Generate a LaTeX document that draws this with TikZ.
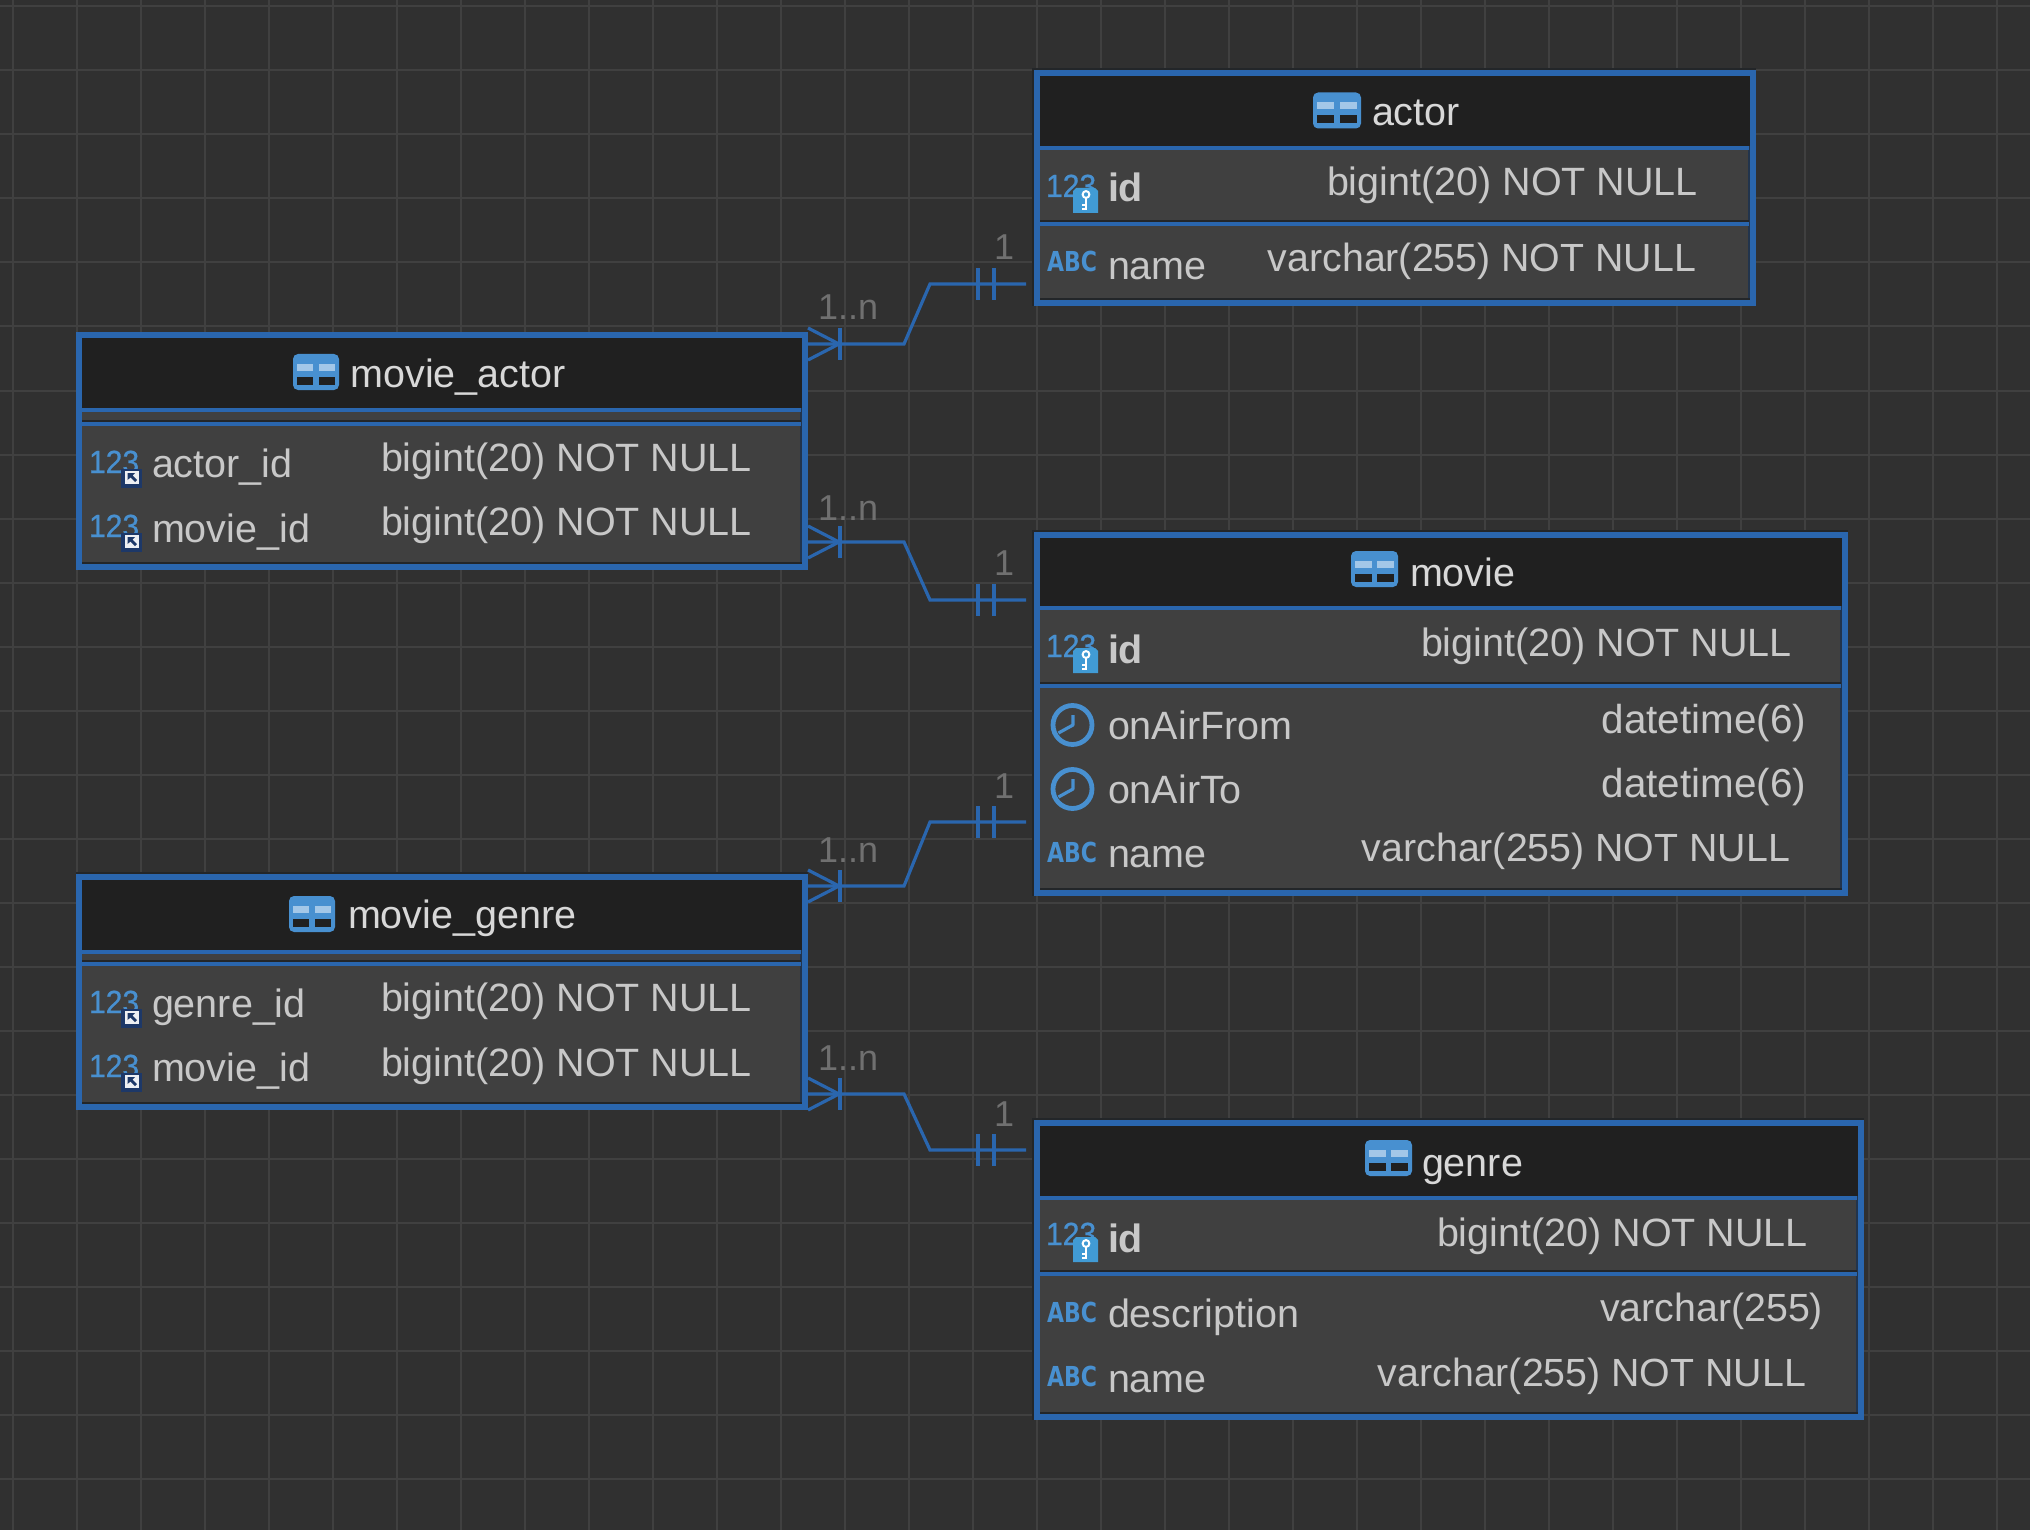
\documentclass[tikz,border=0pt]{standalone}
\usepackage{fontspec}
\setmainfont{Liberation Sans}
\newfontfamily\numfont[FakeBold=0.7]{Liberation Sans}
\newfontfamily\abcfont{DejaVu Sans}
\definecolor{bg}{HTML}{303030}
\definecolor{gridc}{HTML}{404040}
\definecolor{erblue}{HTML}{2A66AE}
\definecolor{head}{HTML}{202020}
\definecolor{body}{HTML}{404040}
\definecolor{edge}{HTML}{232629}
\definecolor{inedge}{HTML}{22344C}
\definecolor{txt}{HTML}{C8C8C8}
\definecolor{lbl}{HTML}{707070}
\definecolor{ico}{HTML}{4890D0}
\definecolor{navy}{HTML}{1D3868}
\tikzset{
  lab/.style={inner sep=0pt,outer sep=0pt,anchor=base west},
  labr/.style={inner sep=0pt,outer sep=0pt,anchor=base east},
  coltext/.style={lab,text=txt,font=\fontsize{39.5}{44}\selectfont},
  idtext/.style={lab,text=txt,font=\fontsize{39.5}{44}\selectfont\bfseries},
  typel/.style={lab,text=txt,font=\fontsize{39.5}{44}\selectfont},
  typer/.style={labr,text=txt,font=\fontsize{39.3}{44}\selectfont},
  typed/.style={labr,text=txt,font=\fontsize{40.4}{44}\selectfont},
  title/.style={lab,text=txt!70!white,font=\fontsize{39.5}{44}\selectfont},
  card/.style={lab,text=lbl,font=\fontsize{36}{44}\selectfont},
  numic/.style={lab,text=ico,font=\numfont\fontsize{32}{34}\selectfont},
  abcic/.style={lab,text=ico,font=\abcfont\fontsize{27.5}{34}\selectfont\bfseries},
  link/.style={draw=erblue,line width=3.2pt},
  tblbox/.style={fill=erblue,inner sep=0pt,outer sep=0pt,anchor=north west},
}
\newcommand{\onetwothree}{\scalebox{.94}[1]{123}}
\newcommand{\abctext}{\scalebox{.8}[1]{ABC}}
% name, x0, y0, x1, y1, first divider top, second divider top
\newcommand{\erbox}[7]{%
  \node[tblbox,minimum width=#4pt-#2pt,minimum height=#5pt-#3pt] (#1) at (#2,#3) {};
  \fill[inedge] (#2+6,#3+6) rectangle (#4-6,#5-6);
  \fill[head] (#2+6,#3+6) rectangle (#4-6,#6);
  \fill[edge] (#2+6,#7-2) rectangle (#4-7,#7);
  \fill[edge] (#2+6,#5-8) rectangle (#4-6,#5-6);
  \fill[body] (#2+6,#6+4) rectangle (#4-8,#7-2);
  \fill[body] (#2+6,#7+4) rectangle (#4-8,#5-8);
  \fill[erblue] (#2+6,#6) rectangle (#4-7,#6+4);
  \fill[erblue] (#2+6,#7) rectangle (#4-7,#7+4);
}
\newcommand{\tblicon}[3]{% x y w
  \fill[ico,rounded corners=5pt] (#1,#2) rectangle ++(#3,36);
  \fill[ico!50!white] (#1+4.3,#2+10) rectangle ++(0.5*#3-7,7);
  \fill[ico!50!white] (#1+0.5*#3+2.5,#2+10) rectangle ++(0.5*#3-7,7);
  \fill[head] (#1+4.3,#2+23) rectangle ++(0.5*#3-7,7.5);
  \fill[head] (#1+0.5*#3+2.5,#2+23) rectangle ++(0.5*#3-7,7.5);
}
\newcommand{\pkbadge}[2]{% x y of top left
  \fill[ico!90!cyan] (#1,#2+3) -- (#1+3,#2) -- (#1+22,#2) -- (#1+25,#2+3) -- (#1+25,#2+25) -- (#1,#2+25) -- cycle;
  \draw[white,line width=2pt] (#1+13,#2+6.5) circle (3.4);
  \draw[white,line width=2.4pt] (#1+13,#2+10) -- (#1+13,#2+22);
  \draw[white,line width=1.8pt] (#1+13,#2+17) -- (#1+9,#2+17) (#1+13,#2+21) -- (#1+9,#2+21);
}
\newcommand{\fkbadge}[2]{%
  \fill[navy] (#1,#2) rectangle ++(21,19);
  \fill[white!92!navy] (#1+4,#2+2) rectangle ++(14,12.5);
  \fill[navy] (#1+6.5,#2+4) -- (#1+14,#2+4) -- (#1+11.5,#2+6.5) -- (#1+16,#2+11) -- (#1+14,#2+13) -- (#1+9.5,#2+8.5) -- (#1+6.5,#2+11) -- cycle;
}
\newcommand{\clockicon}[2]{%
  \draw[ico,line width=4.8pt] (#1,#2) circle (19.5);
  \draw[ico,line width=3.2pt,line join=round] (#1+0.5,#2-10) -- (#1+0.5,#2) -- (#1-14,#2+8);
}
\newcommand{\crowfoot}[1]{%
  \draw[link] (#1) ++(0,-16) -- ++(31,16) -- ++(-31,16);
  \draw[link] (#1) ++(32,-16) -- ++(0,32);
}
\newcommand{\onebars}[1]{%
  \draw[link] (#1) ++(-48,-16) -- ++(0,32);
  \draw[link] (#1) ++(-32,-16) -- ++(0,32);
}
\begin{document}
\begin{tikzpicture}[x=1pt,y=-1pt]
\useasboundingbox (0,0) rectangle (2030,1530);
\fill[bg] (0,0) rectangle (2030,1530);
\foreach \i in {0,...,31} \draw[gridc,line width=2pt] (13+64*\i,0) -- (13+64*\i,1530);
\foreach \i in {0,...,23} \draw[gridc,line width=2pt] (0,6.5+64*\i) -- (2030,6.5+64*\i);

% shadow edges
\fill[edge] (1032,68) rectangle (1756,306);
\fill[edge] (1032,530) rectangle (1848,896);
\fill[edge] (1032,1118) rectangle (1864,1420);
\fill[edge] (76,872) rectangle (808,1110);

\erbox{actor}{1034}{70}{1756}{306}{146}{222}
\erbox{movieactor}{76}{332}{808}{570}{408}{422}
\erbox{movie}{1034}{532}{1848}{896}{606}{684}
\erbox{moviegenre}{76}{874}{808}{1110}{950}{962}
\erbox{genre}{1034}{1120}{1864}{1420}{1196}{1272}

% titles
\tblicon{1313}{92.5}{48}
\node[title] (tactor) at (1372,126) {actor};
\tblicon{293}{354}{46}
\node[title] (tma) at (350.5,388) {movie\_actor};
\tblicon{1351}{551}{47}
\node[title] (tmovie) at (1410,586) {movie};
\tblicon{289}{896}{46}
\node[title] (tmg) at (348,928) {movie\_genre};
\tblicon{1365}{1140}{47}
\node[title] (tgenre) at (1422,1176) {genre};

% actor rows
\node[numic] (a1i) at (1046,197) {\onetwothree};
\pkbadge{1073}{188}
\node[idtext] (a1) at (1108,202) {id};
\node[typel] (a1t) at (1327,196) {bigint(20) NOT NULL};
\node[abcic] (a2i) at (1047,272) {\abctext};
\node[coltext] (a2) at (1108,280) {name};
\node[typer] (a2t) at (1696,272) {varchar(255) NOT NULL};

% movie_actor rows
\node[numic] (ma1i) at (89,473) {\onetwothree};
\fkbadge{121}{469}
\node[coltext] (ma1) at (152,477) {actor\_id};
\node[typel] (ma1t) at (381,471) {bigint(20) NOT NULL};
\node[numic] (ma2i) at (89,537) {\onetwothree};
\fkbadge{121}{533}
\node[coltext] (ma2) at (152,542) {movie\_id};
\node[typel] (ma2t) at (381,535) {bigint(20) NOT NULL};

% movie rows
\node[numic] (m1i) at (1046,657) {\onetwothree};
\pkbadge{1073}{648}
\node[idtext] (m1) at (1108,663) {id};
\node[typel] (m1t) at (1421,656) {bigint(20) NOT NULL};
\clockicon{1072.5}{725}
\node[coltext] (m2) at (1108,739) {onAirFrom};
\node[typed] (m2t) at (1806,733) {datetime(6)};
\clockicon{1072.5}{789}
\node[coltext] (m3) at (1108,803) {onAirTo};
\node[typed] (m3t) at (1806,797) {datetime(6)};
\node[abcic] (m4i) at (1047,862) {\abctext};
\node[coltext] (m4) at (1108,867) {name};
\node[typer] (m4t) at (1790,861) {varchar(255) NOT NULL};

% movie_genre rows
\node[numic] (mg1i) at (89,1013) {\onetwothree};
\fkbadge{121}{1009}
\node[coltext] (mg1) at (152,1017) {genre\_id};
\node[typel] (mg1t) at (381,1011) {bigint(20) NOT NULL};
\node[numic] (mg2i) at (89,1077) {\onetwothree};
\fkbadge{121}{1073}
\node[coltext] (mg2) at (152,1081) {movie\_id};
\node[typel] (mg2t) at (381,1076) {bigint(20) NOT NULL};

% genre rows
\node[numic] (g1i) at (1046,1245) {\onetwothree};
\pkbadge{1073}{1237}
\node[idtext] (g1) at (1108,1252) {id};
\node[typel] (g1t) at (1437,1246) {bigint(20) NOT NULL};
\node[abcic] (g2i) at (1047,1322) {\abctext};
\node[coltext] (g2) at (1108,1327) {description};
\node[typer] (g2t) at (1823,1321) {varchar(255)};
\node[abcic] (g3i) at (1047,1386) {\abctext};
\node[coltext] (g3) at (1108,1392) {name};
\node[typer] (g3t) at (1806,1386) {varchar(255) NOT NULL};

% connectors
\coordinate (c1a) at (movieactor.north east |- 0,344);
\coordinate (c1b) at (1026,284);
\coordinate (c2a) at (movieactor.north east |- 0,542);
\coordinate (c2b) at (1026,600);
\coordinate (c3a) at (moviegenre.north east |- 0,886);
\coordinate (c3b) at (1026,822);
\coordinate (c4a) at (moviegenre.north east |- 0,1094);
\coordinate (c4b) at (1026,1150);

\draw[link,line join=miter] (c1a) -- (904,344) -- (930,284) -- (c1b);
\draw[link,line join=miter] (c2a) -- (904,542) -- (930,600) -- (c2b);
\draw[link,line join=miter] (c3a) -- (904,886) -- (930,822) -- (c3b);
\draw[link,line join=miter] (c4a) -- (904,1094) -- (930,1150) -- (c4b);
\crowfoot{c1a} \onebars{c1b}
\crowfoot{c2a} \onebars{c2b}
\crowfoot{c3a} \onebars{c3b}
\crowfoot{c4a} \onebars{c4b}

\node[card] (n1) at (818,320) {1..n};
\node[card] (n2) at (818,520) {1..n};
\node[card] (n3) at (818,862) {1..n};
\node[card] (n4) at (818,1070) {1..n};
\node[card] (o1) at (994,260) {1};
\node[card] (o2) at (994,575) {1};
\node[card] (o3) at (994,798) {1};
\node[card] (o4) at (994,1126) {1};
\end{tikzpicture}
\end{document}
